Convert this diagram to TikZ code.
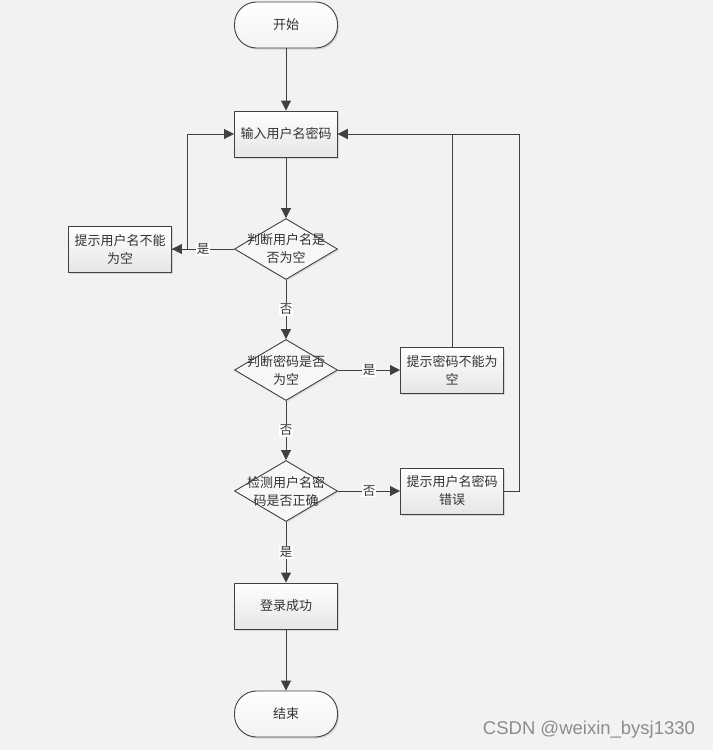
\documentclass[tikz,border=0pt]{standalone}
\usepackage{fontspec}
\usepackage{xcolor}
\usetikzlibrary{shapes.geometric, arrows.meta, shadows}
\newfontfamily\cjk{Noto Sans CJK SC}
\newfontfamily\wmfont{Liberation Sans}
\definecolor{bggray}{HTML}{f2f2f2}
\definecolor{linegray}{HTML}{404040}
\definecolor{textgray}{HTML}{333333}

\tikzset{
  box/.style={draw=linegray, line width=0.9pt, top color=white, bottom color=black!10,
    minimum width=103pt, minimum height=46pt, inner sep=2pt, align=center,
    text=textgray, font=\cjk\fontsize{13pt}{18pt}\selectfont,
    drop shadow={shadow xshift=1.5pt, shadow yshift=-1.5pt, opacity=0.25}},
  terminal/.style={box, rounded corners=22pt, top color=white, bottom color=black!5},
  decision/.style={diamond, draw=linegray, line width=0.9pt, fill=white!97!black,
    minimum width=103pt, minimum height=61pt, inner sep=0pt,
    drop shadow={shadow xshift=1.5pt, shadow yshift=-1.5pt, opacity=0.2}},
  dtext/.style={align=center, text=textgray, font=\cjk\fontsize{13pt}{18pt}\selectfont},
  flow/.style={draw=linegray, line width=0.9pt, -{Triangle[length=10pt, width=10pt]}},
  tag/.style={fill=white, inner sep=1pt, text=textgray, font=\cjk\fontsize{12.5pt}{14pt}\selectfont}
}

\begin{document}
\begin{tikzpicture}[x=1pt, y=-1pt]

  % background
  \fill[bggray] (0,0) rectangle (713,750);
  \useasboundingbox (0,0) rectangle (713,750);

  % main column
  \node[terminal] (start) at (286,25) {开始};
  \node[box] (input) at (286,134) {输入用户名密码};
  \node[decision, label={[dtext]center:判断用户名是\\否为空}] (chkuser) at (286,249) {};
  \node[decision, label={[dtext]center:判断密码是否\\为空}] (chkpwd) at (286,370) {};
  \node[decision, label={[dtext]center:检测用户名密\\码是否正确}] (chkauth) at (286,491) {};
  \node[box] (success) at (286,606) {登录成功};
  \node[terminal] (stop) at (286,714) {结束};

  % warnings
  \node[box] (warnuser) at (120,249) {提示用户名不能\\为空};
  \node[box] (warnpwd) at (452,370) {提示密码不能为\\空};
  \node[box] (warnauth) at (452,491) {提示用户名密码\\错误};

  % connectors
  \draw[flow] (start) -- (input);
  \draw[flow] (input) -- (chkuser);
  \draw[flow] (chkuser.west) -- node[tag] {是} (warnuser.east);
  \draw[flow] (warnuser.east) -- ++(15,0) |- (input.west);
  \draw[flow] (chkuser.south) -- node[tag] {否} (chkpwd.north);
  \draw[flow] (chkpwd.east) -- node[tag] {是} (warnpwd.west);
  \draw[flow] (warnpwd.north) |- (input.east);
  \draw[flow] (chkpwd.south) -- node[tag] {否} (chkauth.north);
  \draw[flow] (chkauth.east) -- node[tag] {否} (warnauth.west);
  \draw[flow] (warnauth.east) -- ++(15,0) |- (input.east);
  \draw[flow] (chkauth.south) -- node[tag] {是} (success.north);
  \draw[flow] (success) -- (stop);

  % watermark
  \node[text=black!45, font=\wmfont\fontsize{18.5pt}{20pt}\selectfont] (mark) at (589,730) {CSDN @weixin\_bysj1330};

\end{tikzpicture}
\end{document}
